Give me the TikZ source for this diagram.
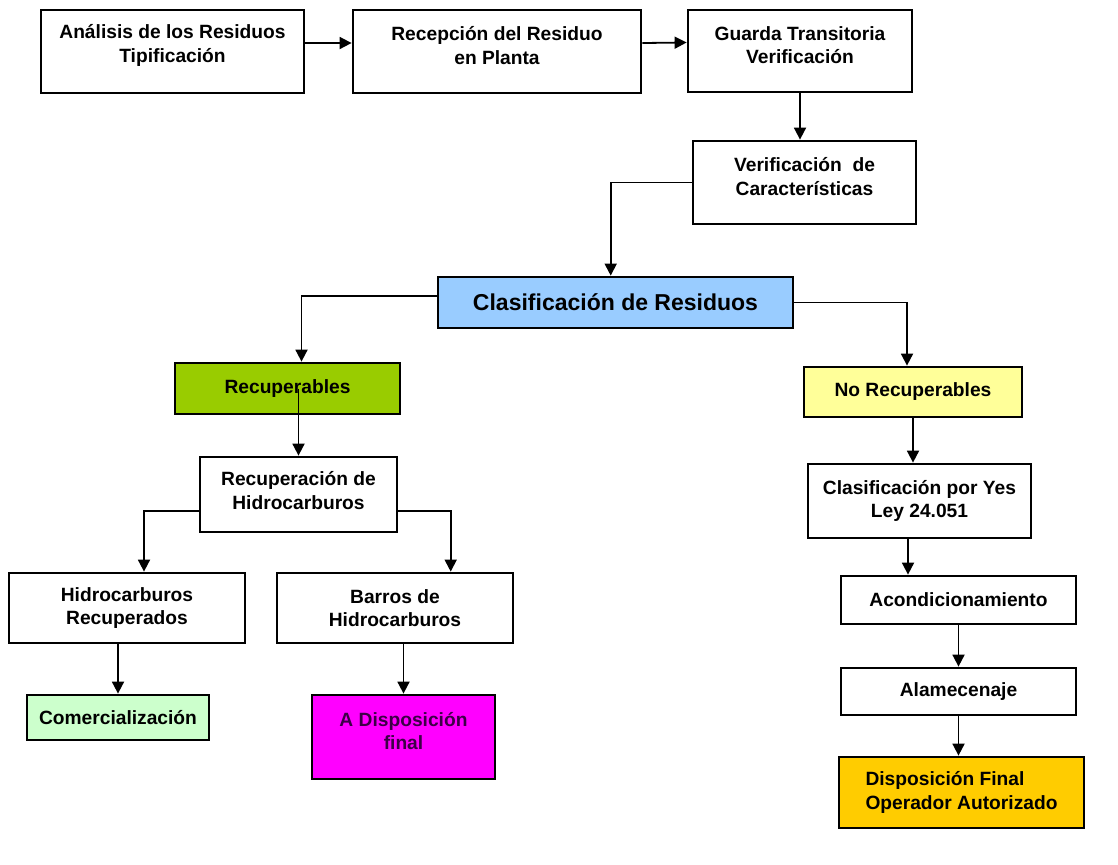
\documentclass[tikz,border=0pt]{standalone}
\usepackage{fontspec}
\setmainfont{Liberation Sans}
\usetikzlibrary{arrows.meta}
\definecolor{azulclaro}{HTML}{99CCFF}
\definecolor{verdelima}{HTML}{99CC00}
\definecolor{verdeclaro}{HTML}{CCFFCC}
\definecolor{amarillo}{HTML}{FFFF99}
\definecolor{naranja}{HTML}{FFCC00}
\definecolor{violeta}{HTML}{FF00FF}
\definecolor{textovioleta}{HTML}{3C0046}
\newcommand{\hueco}[1]{\rule[-#1]{0pt}{#1}}
\begin{document}
\begin{tikzpicture}[x=0.5pt, y=-0.5pt, font=\fontsize{9.6}{11.7}\selectfont\bfseries,
	caja/.style={draw, line width=1.4pt, align=center, inner sep=2pt},
	flecha/.style={-{Triangle[length=6pt, width=6pt]}, line width=0.9pt}]
	\useasboundingbox (0,0) rectangle (1118,864);
	\node[caja, minimum width=131.5pt, minimum height=41.5pt] (ana) at (172.5,51.5) {Análisis de los Residuos\\Tipificación\hueco{8pt}};
	\node[caja, minimum width=144pt, minimum height=41.5pt] (rec) at (497,51.5) {Recepción del Residuo\\en Planta\hueco{6pt}};
	\node[caja, minimum width=112pt, minimum height=41pt] (gua) at (800,51) {Guarda Transitoria\\Verificación\hueco{6pt}};
	\node[caja, minimum width=111.5pt, minimum height=41.5pt] (ver) at (804.5,182.5) {Verificación~~de\\Características\hueco{6pt}};
	\node[caja, fill=azulclaro, minimum width=177.5pt, minimum height=25.5pt, font=\fontsize{11.5}{14}\selectfont\bfseries] (cla) at (615.5,302.5) {Clasificación de Residuos};
	\node[caja, fill=verdelima, minimum width=112.5pt, minimum height=25.5pt] (recu) at (287.5,388.5) {Recuperables};
	\node[caja, fill=amarillo, minimum width=109pt, minimum height=25pt] (norec) at (913,392) {No Recuperables};
	\node[caja, minimum width=98.5pt, minimum height=37.5pt] (rhc) at (298.5,494.5) {Recuperación de\\Hidrocarburos\hueco{4pt}};
	\node[caja, minimum width=118pt, minimum height=35pt] (hrec) at (127,608) {Hidrocarburos\\Recuperados};
	\node[caja, minimum width=118pt, minimum height=35pt] (barros) at (395,608) {Barros de\\Hidrocarburos};
	\node[caja, fill=verdeclaro, minimum width=91pt, minimum height=22.5pt] (com) at (118,717.5) {Comercialización};
	\node[caja, fill=violeta, text=textovioleta, minimum width=91.5pt, minimum height=42pt] (adf) at (403.5,737) {A Disposición\\final\hueco{6pt}};
	\node[caja, minimum width=111.5pt, minimum height=37pt] (cpy) at (919.5,501) {Clasificación por Yes\\Ley 24.051};
	\node[caja, minimum width=117.5pt, minimum height=24pt] (aco) at (958.5,600) {Acondicionamiento};
	\node[caja, minimum width=117.5pt, minimum height=23.5pt] (alm) at (958.5,691.5) {Alamecenaje};
	\node[caja, fill=naranja, align=left, minimum width=122.5pt, minimum height=35.5pt] (dfo) at (961.5,792.5) {Disposición Final\\Operador Autorizado};

	\draw[flecha] ([yshift=4.25pt]ana.east) -- ([yshift=4.25pt]rec.west);
	\draw[flecha] ([yshift=4.25pt]rec.east) -- ([yshift=4.25pt]gua.west);
	\draw[flecha] (gua.south) -- (gua.south |- ver.north);
	\draw[flecha] (ver.west) -| ([xshift=-2.4pt]cla.north);
	\draw[flecha] ([yshift=3.4pt]cla.west) -| ([xshift=7pt]recu.north);
	\draw[flecha] (cla.east) -| ([xshift=-3pt]norec.north);
	\draw[flecha] (rhc.north |- recu.center) -- (rhc.north);
	\draw[flecha] ([yshift=-8.25pt]rhc.west) -| ([xshift=8.5pt]hrec.north);
	\draw[flecha] ([yshift=-8.25pt]rhc.east) -| ([xshift=27.85pt]barros.north);
	\draw[flecha] (hrec.south -| com.north) -- (com.north);
	\draw[flecha] (barros.south -| adf.north) -- (adf.north);
	\draw[flecha] (norec.south) -- (norec.south |- cpy.north);
	\draw[flecha] ([xshift=-5.75pt]cpy.south) -- ([xshift=-5.75pt]cpy.south |- aco.north);
	\draw[flecha] (aco) -- (alm);
	\draw[flecha] (alm.south) -- (alm.south |- dfo.north);
\end{tikzpicture}
\end{document}
